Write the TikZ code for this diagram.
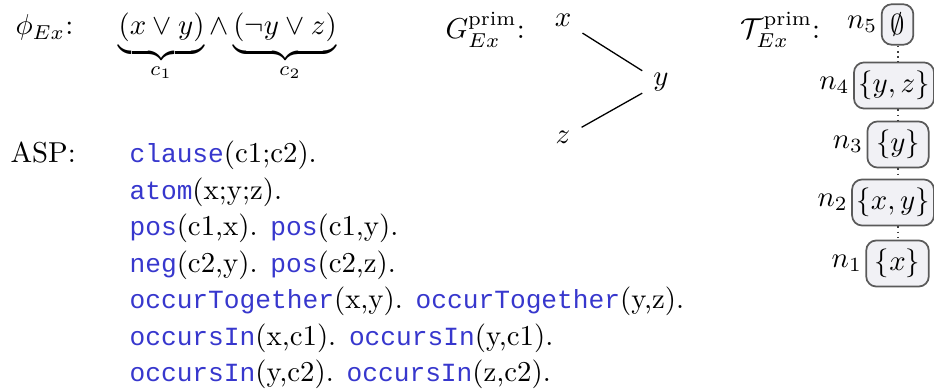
\documentclass[tikz,border=0pt]{standalone}
\usepackage{amsmath}
\usepackage{fontspec}
\newfontfamily\aspmono{Liberation Mono}
\definecolor{aspblue}{RGB}{55,55,205}
\definecolor{boxfill}{RGB}{241,241,245}
\definecolor{boxline}{RGB}{90,90,90}
\newcommand\kw[1]{\textcolor{aspblue}{\fontsize{9.1pt}{11pt}\aspmono #1}}
\tikzset{
  txt/.style={inner sep=0pt, anchor=base west},
  clab/.style={inner sep=0pt, anchor=base},
  gv/.style={inner sep=3.7pt, anchor=base},
  gedge/.style={line width=0.45pt},
  tdnode/.style={draw=boxline, line width=0.6pt, fill=boxfill, rounded corners=3.5pt,
                 inner xsep=3pt, inner ysep=3pt},
  tdwide/.style={inner xsep=1.5pt},
  tdedge/.style={line width=0.7pt, draw=black!75, dash pattern=on 0.6pt off 1.2pt},
  every label/.style={inner sep=1pt}
}
\begin{document}
\begin{tikzpicture}[x=0.3472pt, y=-0.3472pt]
\useasboundingbox (0,0) rectangle (934,392);
% formula
\node[txt] (phi) at (15,35) {$\phi_{Ex}$:};
\node[txt] (form) at (118,35) {$\underbrace{(x \lor y)} \land \underbrace{(\neg y \lor z)}$};
\node[clab] (c1) at (161,76) {$\scriptstyle c_1$};
\node[clab] (c2) at (290,76) {$\scriptstyle c_2$};
% graph
\node[txt] (glab) at (445,39) {$G^{\text{prim}}_{Ex}$:};
\node[gv] (gx) at (563,27) {$x$};
\node[gv] (gy) at (661,86) {$y$};
\node[gv] (gz) at (563,144) {$z$};
\draw[gedge] (gx) -- (gy);
\draw[gedge] (gz) -- (gy);
% tree decomposition
\node[txt] (tlab) at (740,39) {$\mathcal{T}^{\text{prim}}_{Ex}$:};
\node[tdnode, label=left:$n_5$] (n5) at (897.5,24.5) {$\emptyset$};
\node[tdnode, tdwide, label=left:$n_4$] (n4) at (894,85.5) {$\{y,z\}$};
\node[tdnode, label=left:$n_3$] (n3) at (898,144.5) {$\{y\}$};
\node[tdnode, tdwide, label=left:$n_2$] (n2) at (893,202.5) {$\{x,y\}$};
\node[tdnode, label=left:$n_1$] (n1) at (897.5,263.5) {$\{x\}$};
\draw[tdedge] (n5.south) -- (n5.south |- n4.north);
\draw[tdedge] (n3.north |- n4.south) -- (n3.north);
\draw[tdedge] (n3.south) -- (n3.south |- n2.north);
\draw[tdedge] (n1.north |- n2.south) -- (n1.north);
% ASP
\node[txt] (asp) at (10,163) {ASP:};
\node[txt] (l1) at (129,163) {\kw{clause}(c1;c2).};
\node[txt] (l2) at (129,199.5) {\kw{atom}(x;y;z).};
\node[txt] (l3) at (129,236) {\kw{pos}(c1,x). \kw{pos}(c1,y).};
\node[txt] (l4) at (129,272.5) {\kw{neg}(c2,y). \kw{pos}(c2,z).};
\node[txt] (l5) at (129,309) {\kw{occurTogether}(x,y). \kw{occurTogether}(y,z).};
\node[txt] (l6) at (129,345.5) {\kw{occursIn}(x,c1). \kw{occursIn}(y,c1).};
\node[txt] (l7) at (129,382) {\kw{occursIn}(y,c2). \kw{occursIn}(z,c2).};
\end{tikzpicture}
\end{document}
